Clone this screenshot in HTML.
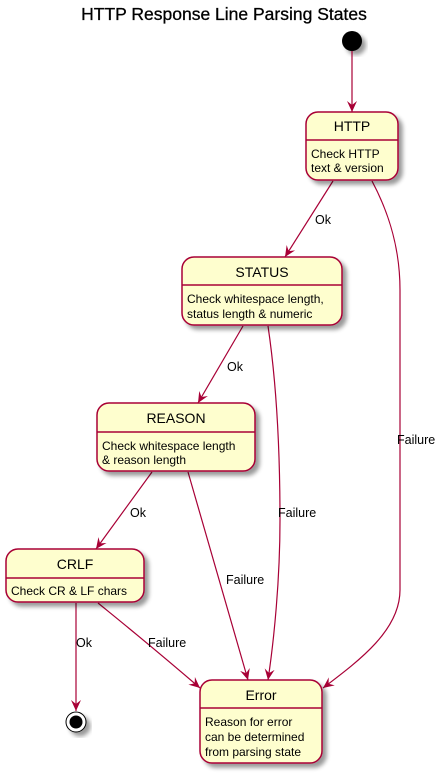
<!DOCTYPE html>
<html><head><meta charset="utf-8"><style>
html,body{margin:0;padding:0;background:#fff;}
svg{display:block;}
text{font-family:"Liberation Sans",sans-serif;fill:#000;}
</style></head><body>
<svg width="447" height="774" viewBox="0 0 447 774" xmlns="http://www.w3.org/2000/svg">
<defs>
<filter id="sh" x="-20%" y="-20%" width="150%" height="150%"><feGaussianBlur in="SourceAlpha" stdDeviation="2"/><feOffset dx="4" dy="4"/><feComponentTransfer><feFuncA type="linear" slope="0.4"/></feComponentTransfer><feMerge><feMergeNode/><feMergeNode in="SourceGraphic"/></feMerge></filter>
<marker id="ar" viewBox="0 0 12 12" refX="11" refY="6" markerWidth="12" markerHeight="12" markerUnits="userSpaceOnUse" orient="auto"><path d="M0,1 L11,6 L0,11 L4,6 Z" fill="#A80036"/></marker>
</defs>
<text x="224" y="20" font-size="17.5" text-anchor="middle" stroke="#000" stroke-width="0.3">HTTP Response Line Parsing States</text>
<circle cx="352" cy="41" r="10" fill="#000" filter="url(#sh)"/>
<g fill="none" stroke="#A80036" stroke-width="1.2">
<path d="M352,51 L352,112" marker-end="url(#ar)"/>
<path d="M333,181 L285,257" marker-end="url(#ar)"/>
<path d="M372,181 C390,215 400,250 400,290 L400,590 C400,630 360,660 323,688" marker-end="url(#ar)"/>
<path d="M243,326 L198,403" marker-end="url(#ar)"/>
<path d="M268,326 C276,380 280,440 280,520 C280,580 274,640 268,680" marker-end="url(#ar)"/>
<path d="M152,472 L96,549" marker-end="url(#ar)"/>
<path d="M188,472 L248,680" marker-end="url(#ar)"/>
<path d="M76,603 L76,711" marker-end="url(#ar)"/>
<path d="M98,603 C125,625 150,645 200,688" marker-end="url(#ar)"/>
</g>
<g font-size="12.5">
<text x="315" y="224">Ok</text>
<text x="227" y="371">Ok</text>
<text x="130" y="517">Ok</text>
<text x="397" y="444">Failure</text>
<text x="278" y="517">Failure</text>
<text x="226" y="584">Failure</text>
<text x="148" y="647">Failure</text>
<text x="76" y="647">Ok</text>
</g>
<g fill="#FEFECE" stroke="#A80036" stroke-width="1.5" filter="url(#sh)">
<rect x="306" y="112" width="92" height="68" rx="12"/>
<rect x="182" y="257" width="160" height="68" rx="12"/>
<rect x="97" y="403" width="158" height="68" rx="12"/>
<rect x="6" y="549" width="138" height="53" rx="12"/>
<rect x="200" y="680" width="122" height="83" rx="12"/>
</g>
<g stroke="#A80036" stroke-width="1.5">
<line x1="306" y1="140" x2="398" y2="140"/>
<line x1="182" y1="285" x2="342" y2="285"/>
<line x1="97" y1="432" x2="255" y2="432"/>
<line x1="6" y1="578" x2="144" y2="578"/>
<line x1="200" y1="708" x2="322" y2="708"/>
</g>
<g font-size="14" text-anchor="middle">
<text x="352" y="131">HTTP</text>
<text x="262" y="277">STATUS</text>
<text x="176" y="423">REASON</text>
<text x="75" y="569">CRLF</text>
<text x="261" y="700">Error</text>
</g>
<g font-size="12">
<text x="311" y="158">Check HTTP</text>
<text x="311" y="172">text &amp; version</text>
<text x="187" y="303">Check whitespace length,</text>
<text x="187" y="318">status length &amp; numeric</text>
<text x="102" y="450">Check whitespace length</text>
<text x="102" y="464">&amp; reason length</text>
<text x="11" y="595">Check CR &amp; LF chars</text>
<text x="205" y="726">Reason for error</text>
<text x="205" y="741">can be determined</text>
<text x="205" y="756">from parsing state</text>
</g>
<circle cx="76" cy="722" r="10" fill="#fff" stroke="#000" stroke-width="1" filter="url(#sh)"/>
<circle cx="76" cy="722" r="6.5" fill="#000"/>
</svg>
</body></html>
